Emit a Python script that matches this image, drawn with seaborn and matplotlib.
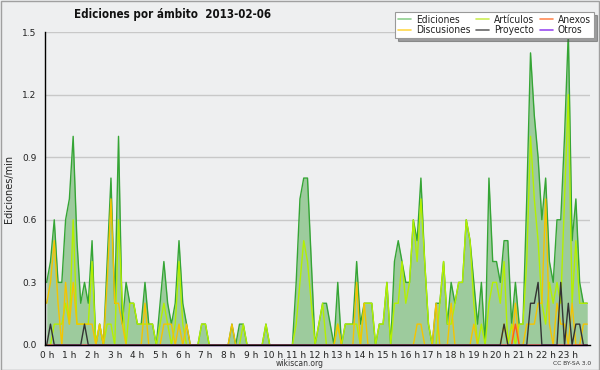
import numpy as np
import pandas as pd
import matplotlib
matplotlib.use("Agg")
import matplotlib.pyplot as plt
import seaborn as sns
from matplotlib.lines import Line2D
from matplotlib.patches import Rectangle
from matplotlib.ticker import MultipleLocator, FixedLocator
from matplotlib.font_manager import FontProperties

# ---- data (edits per minute, 10-minute slots over the day) ----
slot_hours = np.arange(144) / 6.0

ediciones = [
    0.3, 0.4, 0.6, 0.3, 0.3, 0.6, 0.7, 1.0, 0.5, 0.2, 0.3, 0.2,
    0.5, 0.0, 0.1, 0.0, 0.4, 0.8, 0.2, 1.0, 0.1, 0.3, 0.2, 0.2,
    0.1, 0.1, 0.3, 0.1, 0.1, 0.0, 0.2, 0.4, 0.2, 0.1, 0.2, 0.5,
    0.2, 0.1, 0.0, 0.0, 0.0, 0.1, 0.1, 0.0, 0.0, 0.0, 0.0, 0.0,
    0.0, 0.1, 0.0, 0.1, 0.1, 0.0, 0.0, 0.0, 0.0, 0.0, 0.1, 0.0,
    0.0, 0.0, 0.0, 0.0, 0.0, 0.0, 0.3, 0.7, 0.8, 0.8, 0.4, 0.0,
    0.1, 0.2, 0.2, 0.1, 0.0, 0.3, 0.0, 0.1, 0.1, 0.1, 0.4, 0.1,
    0.2, 0.2, 0.2, 0.0, 0.1, 0.1, 0.3, 0.0, 0.4, 0.5, 0.4, 0.3,
    0.3, 0.6, 0.5, 0.8, 0.4, 0.1, 0.0, 0.2, 0.2, 0.4, 0.1, 0.3,
    0.2, 0.3, 0.3, 0.6, 0.5, 0.3, 0.1, 0.3, 0.0, 0.8, 0.4, 0.4,
    0.3, 0.5, 0.5, 0.1, 0.3, 0.1, 0.1, 0.7, 1.4, 1.1, 0.9, 0.6,
    0.8, 0.4, 0.3, 0.6, 0.6, 1.0, 1.5, 0.5, 0.7, 0.3, 0.2, 0.2,
]

articulos = [
    0.0, 0.0, 0.1, 0.1, 0.1, 0.2, 0.1, 0.6, 0.1, 0.1, 0.1, 0.1,
    0.4, 0.0, 0.1, 0.0, 0.1, 0.1, 0.0, 0.6, 0.2, 0.0, 0.2, 0.2,
    0.1, 0.1, 0.1, 0.1, 0.1, 0.0, 0.1, 0.2, 0.1, 0.0, 0.1, 0.4,
    0.1, 0.0, 0.0, 0.0, 0.0, 0.1, 0.1, 0.0, 0.0, 0.0, 0.0, 0.0,
    0.0, 0.0, 0.0, 0.0, 0.1, 0.0, 0.0, 0.0, 0.0, 0.0, 0.1, 0.0,
    0.0, 0.0, 0.0, 0.0, 0.0, 0.0, 0.1, 0.3, 0.5, 0.4, 0.2, 0.0,
    0.1, 0.2, 0.0, 0.0, 0.0, 0.1, 0.0, 0.1, 0.1, 0.1, 0.1, 0.0,
    0.2, 0.2, 0.2, 0.0, 0.1, 0.1, 0.3, 0.0, 0.2, 0.2, 0.4, 0.2,
    0.3, 0.6, 0.4, 0.7, 0.4, 0.1, 0.0, 0.0, 0.2, 0.4, 0.1, 0.1,
    0.2, 0.3, 0.3, 0.6, 0.5, 0.2, 0.0, 0.1, 0.0, 0.2, 0.3, 0.3,
    0.2, 0.4, 0.0, 0.1, 0.0, 0.1, 0.1, 0.4, 1.0, 0.7, 0.5, 0.2,
    0.1, 0.3, 0.2, 0.3, 0.2, 0.7, 1.2, 0.2, 0.5, 0.2, 0.2, 0.2,
]

discusiones = [
    0.2, 0.3, 0.5, 0.2, 0.0, 0.3, 0.1, 0.3, 0.1, 0.1, 0.1, 0.1,
    0.1, 0.0, 0.1, 0.0, 0.3, 0.7, 0.2, 0.2, 0.1, 0.0, 0.0, 0.0,
    0.0, 0.0, 0.2, 0.0, 0.0, 0.0, 0.0, 0.1, 0.1, 0.1, 0.0, 0.1,
    0.0, 0.1, 0.0, 0.0, 0.0, 0.0, 0.0, 0.0, 0.0, 0.0, 0.0, 0.0,
    0.0, 0.1, 0.0, 0.0, 0.0, 0.0, 0.0, 0.0, 0.0, 0.0, 0.0, 0.0,
    0.0, 0.0, 0.0, 0.0, 0.0, 0.0, 0.0, 0.0, 0.0, 0.0, 0.0, 0.0,
    0.0, 0.0, 0.0, 0.0, 0.0, 0.1, 0.0, 0.0, 0.0, 0.0, 0.3, 0.0,
    0.2, 0.0, 0.0, 0.0, 0.0, 0.0, 0.0, 0.0, 0.0, 0.0, 0.0, 0.0,
    0.0, 0.0, 0.1, 0.1, 0.0, 0.0, 0.0, 0.2, 0.0, 0.0, 0.0, 0.2,
    0.0, 0.0, 0.0, 0.0, 0.0, 0.1, 0.0, 0.0, 0.0, 0.0, 0.0, 0.0,
    0.0, 0.1, 0.0, 0.0, 0.2, 0.0, 0.0, 0.1, 0.1, 0.1, 0.2, 0.2,
    0.7, 0.1, 0.0, 0.2, 0.1, 0.1, 0.0, 0.2, 0.0, 0.0, 0.1, 0.1,
]

proyecto = [
    0.0, 0.1, 0.0, 0.0, 0.0, 0.0, 0.0, 0.0, 0.0, 0.0, 0.1, 0.0,
    0.0, 0.0, 0.0, 0.0, 0.0, 0.0, 0.0, 0.0, 0.0, 0.0, 0.0, 0.0,
    0.0, 0.0, 0.0, 0.0, 0.0, 0.0, 0.0, 0.0, 0.0, 0.0, 0.0, 0.0,
    0.0, 0.0, 0.0, 0.0, 0.0, 0.0, 0.0, 0.0, 0.0, 0.0, 0.0, 0.0,
    0.0, 0.0, 0.0, 0.0, 0.0, 0.0, 0.0, 0.0, 0.0, 0.0, 0.0, 0.0,
    0.0, 0.0, 0.0, 0.0, 0.0, 0.0, 0.0, 0.0, 0.0, 0.0, 0.0, 0.0,
    0.0, 0.0, 0.0, 0.0, 0.0, 0.0, 0.0, 0.0, 0.0, 0.0, 0.0, 0.0,
    0.0, 0.0, 0.0, 0.0, 0.0, 0.0, 0.0, 0.0, 0.0, 0.0, 0.0, 0.0,
    0.0, 0.0, 0.0, 0.0, 0.0, 0.0, 0.0, 0.0, 0.0, 0.0, 0.0, 0.0,
    0.0, 0.0, 0.0, 0.0, 0.0, 0.0, 0.0, 0.0, 0.0, 0.0, 0.0, 0.0,
    0.0, 0.1, 0.0, 0.0, 0.0, 0.0, 0.0, 0.0, 0.2, 0.2, 0.3, 0.0,
    0.0, 0.0, 0.0, 0.0, 0.3, 0.0, 0.2, 0.0, 0.1, 0.1, 0.0, 0.0,
]

anexos = [0.0] * 124 + [0.1] + [0.0] * 19
otros = [0.0] * 144

hour_labels = [f"{h} h" for h in range(24)]
y_ticks = [0.0, 0.3, 0.6, 0.9, 1.2, 1.5]

df = pd.DataFrame({
    "hora": slot_hours,
    "Ediciones": ediciones,
    "Artículos": articulos,
    "Anexos": anexos,
    "Discusiones": discusiones,
    "Proyecto": proyecto,
    "Otros": otros,
})

# ---- style ----
bg = "#eeeff0"
sns.set_style("white")
plt.rcParams["font.family"] = ["DejaVu Sans"]

fig = plt.figure(figsize=(6.0, 3.7), dpi=100, facecolor=bg)
ax = fig.add_axes([0.075, 0.0676, 0.9083, 0.8459])
ax.set_facecolor(bg)

ax.fill_between(df["hora"], 0, df["Ediciones"], color="#9dcb9d", lw=0, zorder=1)

series_style = [
    ("Ediciones", "#35a535", 1.0),
    ("Artículos", "#b4f000", 1.0),
    ("Discusiones", "#f5c400", 1.0),
    ("Anexos", "#ff5a20", 1.0),
    ("Proyecto", "#333333", 1.0),
    ("Otros", "#9933ff", 1.0),
]
for name, col, lw in series_style:
    sns.lineplot(data=df, x="hora", y=name, color=col, lw=lw, ax=ax,
                 zorder=2, legend=False)
for line in ax.get_lines():
    line.set_clip_on(False)

ax.set_xlim(-0.075, 23.955)
ax.set_ylim(0, 1.5)

# grid
for yv in y_ticks[1:]:
    ax.axhline(yv, color="#c8c8c8", lw=1.0, zorder=0.5, clip_on=True)

ax.xaxis.set_major_locator(FixedLocator(list(range(24))))
ax.set_xticklabels(hour_labels)
ax.xaxis.set_minor_locator(MultipleLocator(1 / 6))
ax.yaxis.set_major_locator(FixedLocator(y_ticks))
ax.set_yticklabels([f"{v:.1f}" for v in y_ticks])
ax.yaxis.set_minor_locator(MultipleLocator(0.1))

ax.tick_params(axis="both", which="both", direction="out", length=3.5,
               width=0.8, color="black", labelsize=6.5, pad=0.5,
               labelcolor="#222222")
ax.tick_params(axis="y", which="major", length=5, pad=1)

for s in ["top", "right"]:
    ax.spines[s].set_visible(False)
for s in ["left", "bottom"]:
    ax.spines[s].set_color("black")
    ax.spines[s].set_linewidth(1.0)
    ax.spines[s].set_zorder(3)

ax.set_xlabel("")
ax.set_ylabel("Ediciones/min", fontsize=7, labelpad=6, color="#222222")

# title and footer
title_fp = FontProperties(family="DejaVu Sans", weight="bold", stretch="condensed", size=8.3)
fig.text(0.123, 0.962, "Ediciones por ámbito  2013-02-06",
         fontproperties=title_fp, va="center", ha="left", color="#111111")
fig.text(0.5, 0.017, "wikiscan.org", fontsize=5.5, ha="center", va="center",
         color="#333333")
fig.text(0.985, 0.017, "CC BY-SA 3.0", fontsize=4.3, ha="right", va="center",
         color="#333333")

# legend
leg_handles = [
    Line2D([], [], color="#8fd08f", lw=1.2),
    Line2D([], [], color="#ffd84a", lw=1.2),
    Line2D([], [], color="#ccee55", lw=1.2),
    Line2D([], [], color="#666666", lw=1.2),
    Line2D([], [], color="#ff8a55", lw=1.2),
    Line2D([], [], color="#9a4cf0", lw=1.2),
]
leg_labels = ["Ediciones", "Discusiones", "Artículos", "Proyecto", "Anexos", "Otros"]
leg_fp = FontProperties(family="DejaVu Sans", stretch="condensed", size=7.3)
leg = fig.legend(leg_handles, leg_labels, loc="upper right",
                 bbox_to_anchor=(0.99, 0.968), ncol=3, prop=leg_fp,
                 frameon=True, fancybox=False, shadow=True,
                 handlelength=1.3, handletextpad=0.5, columnspacing=0.5,
                 labelspacing=0.05, borderpad=0.3, borderaxespad=0)
leg.get_frame().set_edgecolor("#999999")
leg.get_frame().set_linewidth(0.8)
leg.get_frame().set_facecolor("white")
for t in leg.get_texts():
    t.set_color("#222222")

fig.patches.append(Rectangle((0.001, 0.001), 0.998, 0.997, transform=fig.transFigure,
                             fill=False, edgecolor="#a0a0a0", lw=1.0))

fig.savefig("out.png", dpi=100, facecolor=bg)
